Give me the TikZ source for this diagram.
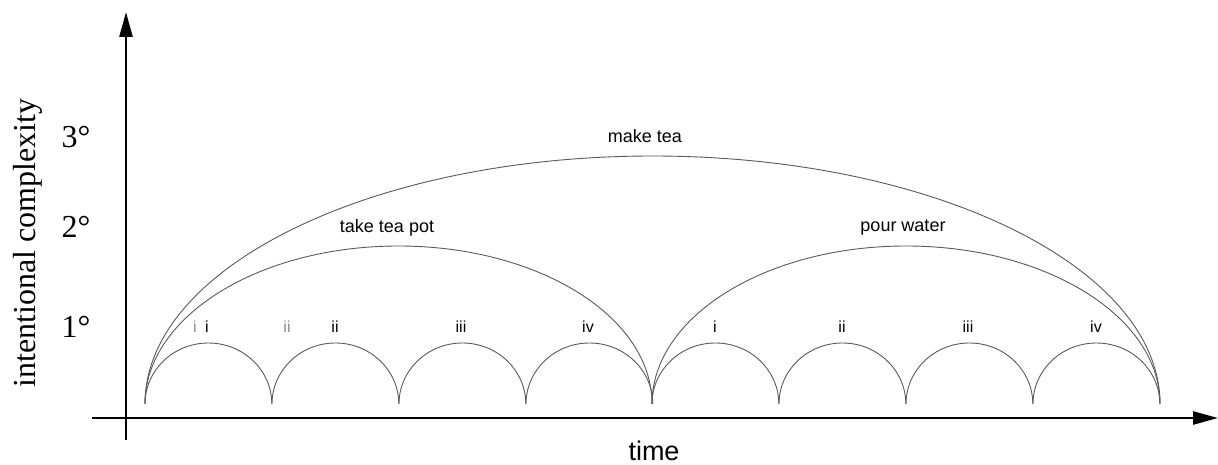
\documentclass[tikz,border=0pt]{standalone}
\usepackage{fontspec}
\setmainfont{Liberation Serif}
\setsansfont{Liberation Sans}
\usetikzlibrary{arrows.meta}
\begin{document}
\begin{tikzpicture}[x=1pt,y=1pt,
  axis/.style={line width=2.6pt,-{Triangle[length=25pt,width=13pt]}},
  arcline/.style={draw=black!65,line width=0.9pt},
  deg/.style={font=\fontsize{32}{32}\selectfont},
  big/.style={font=\sffamily\fontsize{18}{18}\selectfont},
  small/.style={font=\sffamily\fontsize{16}{16}\selectfont},
  ghost/.style={small,text=black!45}]
\useasboundingbox (0,0) rectangle (1218,464);
% axes
\coordinate (ybot) at (126,24);
\coordinate (ytop) at (126,452);
\coordinate (xleft) at (92,46);
\coordinate (xright) at (1218,46);
\draw[axis] (ybot) -- (ytop);
\draw[axis] (xleft) -- (xright);
% arc end points
\foreach \i/\x in {0/145,1/272,2/399,3/526,4/652,5/779,6/906,7/1033,8/1160}
  \coordinate (p\i) at (\x,60);
% small arcs
\foreach \i in {0,...,7}
  \draw[arcline] (p\i) arc[start angle=180,end angle=0,x radius=63.4,y radius=61];
% medium arcs
\draw[arcline] (p0) arc[start angle=180,end angle=0,x radius=253.5,y radius=158];
\draw[arcline] (p4) arc[start angle=180,end angle=0,x radius=254,y radius=158];
% big arc
\draw[arcline] (p0) arc[start angle=180,end angle=0,x radius=507.5,y radius=248];
% labels
\node[big] (mt) at (645,328) {make tea};
\node[big] (ttp) at (387,236) {take tea pot};
\node[big] (pw) at (903,236) {pour water};
\node[ghost] (gi) at (195,137) {i};
\node[small] (l1) at (207,137) {i};
\node[ghost] (gii) at (287,137) {ii};
\node[small] (l2) at (335,137) {ii};
\node[small] (l3) at (461,137) {iii};
\node[small] (l4) at (588,137) {iv};
\node[small] (l5) at (715,137) {i};
\node[small] (l6) at (842,137) {ii};
\node[small] (l7) at (968,137) {iii};
\node[small] (l8) at (1096,137) {iv};
\node[deg] (d3) at (76,327) {3\textdegree};
\node[deg] (d2) at (76,237) {2\textdegree};
\node[deg] (d1) at (76,137) {1\textdegree};
\node[font=\fontsize{32}{32}\selectfont,rotate=90] (ylab) at (28,221) {intentional complexity};
\node[font=\sffamily\fontsize{27}{27}\selectfont] (xlab) at (654,13) {time};
\end{tikzpicture}
\end{document}
